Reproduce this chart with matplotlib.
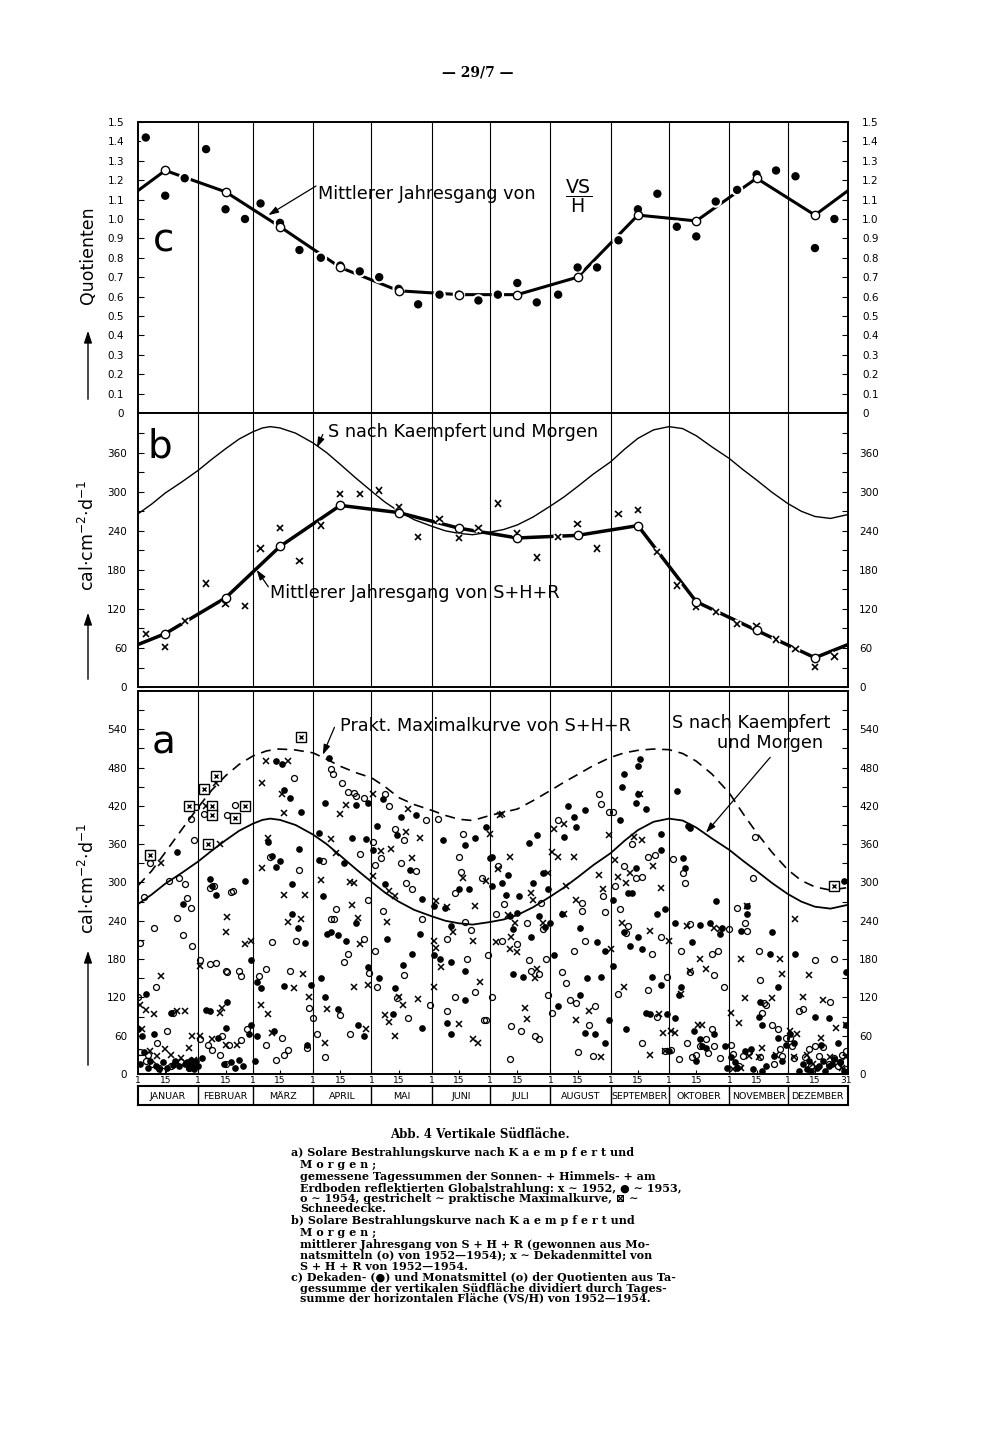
import numpy as np
import matplotlib
matplotlib.use('Agg')
import matplotlib.pyplot as plt
import matplotlib.patheffects as pe

plt.rcParams['font.family'] = ['DejaVu Sans']
plt.rcParams['mathtext.fontset'] = 'dejavusans'

# x axis is the day of the year, 0 = 1. Januar
month_start = [0, 31, 59, 90, 120, 151, 181, 212, 243, 273, 304, 334]
month_names = ['JANUAR', 'FEBRUAR', 'MÄRZ', 'APRIL', 'MAI', 'JUNI', 'JULI',
               'AUGUST', 'SEPTEMBER', 'OKTOBER', 'NOVEMBER', 'DEZEMBER']
year_len = 365
mid_offset = 14
decade_offsets = [4, 14, 24]

# c) quotient VS/H, monthly means (o) and decade means (.)
vsh_month = [1.25, 1.14, 0.96, 0.75, 0.63, 0.61, 0.61, 0.70, 1.02, 0.99, 1.21, 1.02]
vsh_decade = [1.42, 1.12, 1.21, 1.36, 1.05, 1.00, 1.08, 0.98, 0.84,
              0.80, 0.76, 0.73, 0.70, 0.64, 0.56, 0.61, 0.61, 0.58,
              0.61, 0.67, 0.57, 0.61, 0.75, 0.75, 0.89, 1.05, 1.13,
              0.96, 0.91, 1.09, 1.15, 1.23, 1.25, 1.22, 0.85, 1.00]

# b) S+H+R, monthly means (o) and decade means (x)
shr_month = [82, 137, 216, 279, 268, 244, 229, 233, 248, 131, 87, 45]
shr_decade = [81, 62, 102, 159, 127, 124, 213, 244, 194,
              248, 296, 297, 302, 276, 230, 258, 229, 244,
              282, 236, 199, 231, 251, 213, 266, 272, 208,
              156, 123, 115, 97, 94, 73, 58, 31, 47]

# S nach Kaempfert und Morgen
s_days = [0, 7, 14, 23, 31, 38, 45, 52, 59, 64, 68, 73, 81, 90, 97, 104, 112,
          120, 127, 134, 142, 151, 158, 165, 172, 181, 188, 195, 203, 212,
          219, 226, 234, 243, 250, 257, 265, 273, 280, 287, 295, 304, 311,
          318, 326, 334, 341, 348, 356, 365]
s_vals = [266, 281, 298, 316, 333, 350, 366, 381, 392, 398, 400, 398, 390, 375,
          360, 342, 321, 301, 284, 270, 257, 247, 240, 236, 234, 238, 242, 249,
          261, 278, 292, 308, 327, 346, 365, 382, 395, 400, 397, 386, 369, 351,
          334, 318, 299, 282, 270, 262, 259, 265]

# praktische Maximalkurve (dashed)
max_days = [0, 7, 14, 23, 31, 38, 45, 52, 59, 66, 72, 80, 90, 97, 104, 112,
            120, 127, 134, 142, 151, 158, 165, 172, 181, 188, 195, 203, 212,
            219, 226, 234, 243, 250, 257, 265, 273, 280, 287, 295, 304, 311,
            318, 326, 334, 341, 348, 356, 365]
max_vals = [295, 318, 347, 385, 418, 445, 467, 485, 498, 506, 509, 508, 503,
            493, 482, 472, 464, 450, 433, 422, 413, 405, 399, 397, 405, 410,
            415, 428, 444, 457, 469, 483, 496, 503, 507, 509, 508, 502, 490,
            470, 440, 408, 378, 347, 320, 303, 293, 288, 292]

# a) daily sums (day, cal/cm2/d): x 1952, dot 1953, o 1954
x1952 = [(1, 108), (2, 70), (4, 100), (6, 36), (8, 94), (10, 28), (12, 154), (12, 330),
         (14, 39), (17, 30), (20, 99), (22, 25), (24, 98), (26, 41), (28, 59), (29, 22),
         (32, 59), (32, 169), (35, 419), (38, 54), (40, 456), (42, 95), (42, 361), (43, 104),
         (45, 45), (45, 223), (46, 246), (51, 45), (55, 204), (58, 209),
         (85, 528), (66, 491), (67, 370), (64, 322), (64, 456), (74, 438), (77, 490), (75, 409),
         (75, 281), (77, 238), (80, 134), (84, 242), (86, 281), (85, 157), (88, 121), (67, 94),
         (69, 64), (63, 108),
         (94, 304), (97, 101), (96, 49), (99, 368), (102, 346), (104, 408), (107, 422),
         (109, 300), (111, 299), (110, 265), (111, 137), (113, 245), (114, 203), (117, 70),
         (118, 139),
         (121, 438), (121, 310), (125, 350), (129, 286), (128, 238), (130, 352), (132, 279),
         (134, 121), (136, 108), (127, 93), (129, 81), (132, 59), (139, 415), (138, 379),
         (145, 369), (144, 118), (141, 338),
         (152, 137), (153, 198), (152, 209), (156, 168), (153, 271), (159, 262), (162, 223),
         (165, 78), (172, 54), (175, 49), (167, 307), (173, 263), (176, 144), (172, 209),
         (179, 302), (181, 376),
         (184, 206), (185, 321), (186, 405), (187, 407), (190, 249), (191, 196), (192, 214),
         (194, 237), (195, 191), (199, 103), (200, 86), (202, 284), (203, 272), (204, 150),
         (205, 165), (208, 237), (211, 315), (191, 340),
         (213, 347), (214, 384), (216, 340), (219, 392), (219, 250), (220, 294), (224, 340),
         (225, 273), (225, 85), (232, 98), (237, 312), (238, 26), (239, 289), (242, 374),
         (243, 196),
         (245, 335), (247, 309), (249, 237), (251, 299), (250, 137), (253, 315), (255, 371),
         (258, 438), (259, 366), (263, 224), (263, 29), (265, 325), (268, 94), (269, 291),
         (270, 64), (271, 36), (273, 209),
         (274, 67), (276, 64), (279, 126), (282, 232), (284, 162), (289, 180), (290, 77),
         (292, 165), (288, 77), (296, 229), (299, 227),
         (305, 95), (306, 8), (309, 80), (310, 10), (310, 180), (312, 119), (313, 263),
         (314, 28), (319, 26), (321, 41), (326, 119), (330, 180), (331, 157), (328, 30),
         (335, 68), (337, 26), (338, 242), (339, 62), (342, 121), (345, 155), (351, 57),
         (352, 116), (356, 26), (359, 72), (362, 10), (364, 77), (364, 26), (347, 15), (344, 30)]

dot1953 = [(0, 70), (1, 15), (2, 59), (3, 35), (4, 126), (5, 10), (6, 20), (8, 62), (9, 12),
           (11, 8), (13, 18), (15, 10), (17, 95), (18, 14), (19, 20), (20, 348), (21, 12),
           (23, 266), (24, 15), (25, 18), (26, 10), (27, 22), (28, 14), (29, 8), (30, 20),
           (31, 12), (33, 25), (35, 100), (37, 99), (37, 305), (38, 294), (40, 281), (41, 57),
           (45, 72), (46, 113), (48, 18), (50, 10), (52, 22), (55, 303), (57, 62), (58, 76),
           (58, 178), (44, 15), (54, 12),
           (61, 144), (63, 135), (61, 59), (60, 21), (67, 364), (69, 342), (71, 324), (75, 445),
           (73, 333), (71, 491), (74, 486), (78, 432), (79, 297), (75, 138), (83, 353),
           (84, 411), (86, 205), (87, 45), (89, 139), (82, 228), (79, 251), (70, 67),
           (98, 495), (96, 424), (93, 378), (93, 335), (95, 278), (97, 219), (94, 151),
           (96, 121), (103, 102), (103, 218), (106, 331), (107, 208), (110, 370), (112, 421),
           (113, 77), (112, 237), (118, 168), (117, 368), (116, 59), (118, 425), (99, 222),
           (121, 351), (123, 389), (126, 431), (127, 297), (128, 211), (124, 150), (132, 135),
           (131, 94), (136, 170), (140, 320), (141, 188), (143, 405), (145, 219), (146, 274),
           (146, 72), (135, 403), (133, 374),
           (152, 186), (155, 180), (152, 263), (158, 260), (157, 366), (161, 232), (161, 176),
           (165, 289), (168, 161), (168, 116), (170, 289), (173, 370), (161, 62), (159, 80),
           (168, 358), (179, 387), (181, 339),
           (182, 340), (182, 294), (187, 299), (190, 312), (189, 281), (191, 248), (193, 157),
           (195, 252), (196, 278), (201, 362), (202, 214), (205, 374), (206, 248), (208, 315),
           (211, 289), (209, 230), (198, 152), (203, 299), (193, 227),
           (212, 237), (214, 186), (216, 107), (218, 250), (219, 371), (221, 420), (224, 402),
           (225, 387), (227, 229), (227, 124), (230, 413), (230, 64), (231, 150), (235, 62),
           (236, 206), (238, 152), (240, 193), (240, 49), (242, 85),
           (244, 273), (244, 169), (248, 398), (249, 450), (250, 470), (251, 71), (256, 425),
           (257, 482), (258, 494), (257, 439), (261, 415), (256, 322), (254, 284), (250, 222),
           (252, 284), (253, 201), (259, 196), (257, 214), (261, 95), (264, 152), (267, 250),
           (269, 376), (269, 351), (271, 259), (272, 94), (269, 139), (263, 94),
           (273, 36), (276, 237), (276, 88), (277, 443), (278, 123), (279, 137), (280, 339),
           (281, 322), (283, 389), (284, 386), (285, 207), (286, 67), (287, 21), (289, 54),
           (290, 44), (292, 40), (296, 62), (297, 271), (299, 219), (300, 229), (294, 237),
           (289, 234), (302, 44), (303, 10),
           (305, 27), (307, 18), (308, 10), (310, 224), (312, 36), (313, 250), (313, 263),
           (315, 39), (316, 8), (319, 90), (320, 113), (321, 5), (321, 77), (323, 12),
           (325, 188), (326, 222), (327, 28), (329, 137), (329, 57), (331, 20), (333, 46),
           (335, 62), (337, 49), (338, 188), (340, 5), (342, 15), (344, 8), (345, 20), (346, 5),
           (348, 90), (349, 10), (350, 13), (351, 46), (352, 20), (353, 5), (355, 88), (355, 12),
           (357, 15), (358, 23), (360, 49), (361, 18), (363, 5), (364, 77), (364, 160), (363, 302)]

o1954 = [(0, 120), (1, 205), (1, 35), (3, 277), (4, 20), (6, 331), (7, 15), (8, 229), (9, 137),
         (10, 49), (11, 10), (13, 5), (15, 68), (16, 303), (17, 12), (18, 95), (20, 245),
         (21, 307), (22, 18), (23, 217), (24, 297), (25, 276), (26, 10), (27, 260), (27, 400),
         (28, 201), (29, 366), (5, 30),
         (30, 418), (34, 408), (32, 178), (37, 173), (37, 292), (46, 405), (49, 286), (50, 421),
         (45, 162), (40, 174), (52, 162), (53, 154), (46, 160), (39, 294), (48, 285), (32, 54),
         (36, 46), (38, 38), (42, 30), (45, 15), (47, 46), (53, 53), (56, 70), (43, 60),
         (62, 153), (66, 164), (69, 207), (74, 57), (75, 30), (77, 38), (78, 162), (80, 464),
         (81, 209), (68, 340), (66, 45), (71, 22), (88, 103), (87, 40), (83, 320), (90, 88),
         (99, 478), (100, 470), (105, 456), (108, 442), (108, 188), (111, 440), (112, 436),
         (116, 433), (99, 242), (101, 242), (102, 259), (109, 62), (96, 27), (92, 63),
         (104, 93), (118, 272), (119, 158), (116, 211), (95, 333), (106, 175), (114, 345),
         (121, 364), (122, 327), (125, 339), (127, 438), (129, 420), (132, 384), (135, 330),
         (137, 366), (138, 299), (141, 289), (122, 193), (126, 255), (123, 137), (137, 155),
         (133, 119), (139, 88), (146, 242), (148, 398), (143, 318),
         (150, 108), (154, 400), (159, 211), (159, 98), (163, 284), (165, 340), (166, 317),
         (168, 238), (169, 180), (167, 376), (177, 307), (180, 186), (182, 121), (163, 121),
         (173, 129), (179, 85), (171, 225),
         (184, 250), (188, 266), (185, 326), (178, 85), (192, 75), (191, 24), (197, 67),
         (195, 204), (200, 237), (201, 178), (204, 59), (206, 54), (207, 268), (208, 227),
         (210, 180), (211, 124), (202, 162), (206, 157), (187, 208),
         (213, 95), (216, 398), (218, 160), (220, 142), (222, 116), (224, 193), (225, 111),
         (226, 34), (228, 268), (230, 209), (232, 77), (234, 28), (235, 106), (237, 438),
         (238, 423), (239, 278), (240, 253), (242, 410), (228, 255),
         (244, 410), (245, 294), (247, 126), (250, 325), (251, 221), (252, 232), (254, 360),
         (256, 307), (259, 309), (262, 131), (259, 49), (264, 188), (267, 90), (269, 214),
         (271, 36), (272, 152), (262, 340), (266, 343), (248, 258),
         (275, 336), (280, 315), (281, 299), (274, 37), (278, 23), (279, 193), (282, 49),
         (284, 160), (285, 26), (284, 235), (287, 30), (289, 44), (292, 54), (295, 70),
         (295, 188), (296, 155), (298, 193), (301, 137), (299, 25), (296, 44), (293, 33),
         (304, 227), (305, 46), (306, 32), (308, 260), (309, 12), (311, 28), (312, 237),
         (313, 224), (314, 34), (316, 307), (317, 371), (319, 193), (320, 26), (320, 147),
         (321, 95), (322, 111), (323, 108), (326, 77), (327, 15), (329, 70), (330, 39),
         (331, 28), (333, 57),
         (335, 57), (336, 44), (337, 25), (340, 98), (342, 101), (343, 26), (345, 39),
         (346, 12), (348, 178), (348, 44), (350, 28), (352, 42), (355, 15), (356, 113),
         (358, 180), (358, 25), (360, 13), (361, 18), (362, 30), (364, 8), (364, 36)]

snow = [(6, 343), (26, 419), (34, 446), (38, 419), (38, 405), (40, 467), (36, 360),
        (50, 401), (55, 420), (84, 528), (358, 295)]

mean_x = [m + mid_offset for m in month_start]
dec_x = [m + o for m in month_start for o in decade_offsets]


def wrapped(vals):
    # close the mean line over the turn of the year
    xs = [mean_x[-1] - year_len] + mean_x + [mean_x[0] + year_len]
    ys = [vals[-1]] + list(vals) + [vals[0]]
    return xs, ys


halo = [pe.withStroke(linewidth=4, foreground='white')]
ann_size = 12.7

fig = plt.figure(figsize=(10, 14.47), dpi=100)
H = 1447.0
L, W = 0.138, 0.710
ax_c = fig.add_axes([L, 0.7146, W, 0.2011])
ax_b = fig.add_axes([L, 0.5252, W, 0.1894])
ax_a = fig.add_axes([L, 0.2578, W, 0.2647])
ax_m = fig.add_axes([L, 0.2364, W, 0.0131])


def style_panel(ax, ymax, major, minor, labels, pad):
    ax.set_xlim(0, year_len)
    ax.set_ylim(0, ymax)
    ax.set_yticks(major)
    ax.set_yticklabels(labels)
    ax.set_yticks(minor, minor=True)
    ax.tick_params(axis='y', which='both', direction='in', left=True, right=True,
                   length=4, width=0.8)
    ax.tick_params(axis='y', labelleft=True, labelright=True, labelsize=7.5, pad=pad)
    for s in ax.spines.values():
        s.set_linewidth(1.4)
    for m in month_start[1:]:
        ax.axvline(m, color='black', lw=0.8, zorder=1)


arrow_kw = dict(arrowstyle='-|>,head_length=0.6,head_width=0.2', color='black', lw=0.9,
                shrinkA=0, shrinkB=0)

# ---- panel c
cv = np.round(np.arange(0, 1.51, 0.1), 1)
style_panel(ax_c, 1.5, cv, [], ['0'] + [f'{v:.1f}' for v in cv[1:]], 10)
ax_c.set_xticks([])
lx, ly = wrapped(vsh_month)
ax_c.plot(lx, ly, color='black', lw=2.2, zorder=2)
ax_c.plot(dec_x, vsh_decade, 'o', color='black', ms=5, zorder=3, path_effects=halo)
ax_c.plot(mean_x, vsh_month, 'o', mfc='white', mec='black', ms=6, mew=1.0, zorder=4)
ax_c.text(13, 0.89, 'c', fontsize=28, ha='center', va='center')
ax_c.annotate('', xy=(67, 1.02), xytext=(91.5, 1.17), arrowprops=arrow_kw)
ax_c.text(92.5, 1.13, 'Mittlerer Jahresgang von', fontsize=ann_size, va='center')
ax_c.text(226.5, 1.12, '$\\dfrac{\\mathrm{VS}}{\\mathrm{H}}$', fontsize=ann_size + 1,
          ha='center', va='center')

# ---- panel b
style_panel(ax_b, 421, np.arange(0, 361, 60), np.arange(30, 420, 60),
            [str(v) for v in range(0, 361, 60)], 8)
ax_b.set_xticks([])
ax_b.plot(s_days, s_vals, color='black', lw=1.0, zorder=2)
lx, ly = wrapped(shr_month)
ax_b.plot(lx, ly, color='black', lw=2.5, zorder=2)
ax_b.plot(dec_x, shr_decade, 'x', color='black', ms=4.5, mew=1.2, zorder=3, path_effects=halo)
ax_b.plot(mean_x, shr_month, 'o', mfc='white', mec='black', ms=6, mew=1.0, zorder=4)
ax_b.text(11, 369, 'b', fontsize=28, ha='center', va='center')
ax_b.annotate('', xy=(92, 368), xytext=(95, 388), arrowprops=arrow_kw)
ax_b.text(97.5, 392, 'S nach Kaempfert und Morgen', fontsize=ann_size, va='center')
ax_b.annotate('', xy=(61, 180), xytext=(67, 154), arrowprops=arrow_kw)
ax_b.text(68, 145, 'Mittlerer Jahresgang von S+H+R', fontsize=ann_size, va='center')

# ---- panel a
style_panel(ax_a, 600, np.arange(0, 541, 60), np.arange(30, 600, 60),
            [str(v) for v in range(0, 541, 60)], 8)
ax_a.plot(max_days, max_vals, color='black', lw=1.2, dashes=(6, 4), zorder=2)
ax_a.plot(s_days, s_vals, color='black', lw=1.3, zorder=2)
xd, xv = zip(*x1952)
ax_a.plot(xd, xv, 'x', color='black', ms=4, mew=1.1, zorder=3)
dd, dv = zip(*dot1953)
ax_a.plot(dd, dv, 'o', color='black', ms=3.8, zorder=3)
od, ov = zip(*o1954)
ax_a.plot(od, ov, 'o', mfc='none', mec='black', ms=4.3, mew=0.9, zorder=3)
sd, sv = zip(*snow)
ax_a.plot(sd, sv, 's', mfc='white', mec='black', ms=7, mew=1.0, zorder=4)
ax_a.plot(sd, sv, 'x', color='black', ms=3.5, mew=1.0, zorder=5)
ax_a.text(13, 520, 'a', fontsize=28, ha='center', va='center')
ax_a.annotate('', xy=(95, 500), xytext=(101, 543), arrowprops=arrow_kw)
ax_a.text(104, 545, 'Prakt. Maximalkurve von S+H+R', fontsize=ann_size, va='center')
ax_a.text(356, 549, 'S nach Kaempfert', fontsize=ann_size, va='center', ha='right')
ax_a.text(352, 518, 'und Morgen', fontsize=ann_size, va='center', ha='right')
ax_a.annotate('', xy=(292, 378), xytext=(325, 496), arrowprops=arrow_kw)

day_ticks = month_start + [m + 14 for m in month_start] + [year_len - 1]
day_labels = ['1'] * 12 + ['15'] * 12 + ['31']
ax_a.set_xticks(day_ticks)
ax_a.set_xticklabels(day_labels)
ax_a.tick_params(axis='x', direction='in', length=3, labelsize=6.5, pad=1.5, bottom=True)

# ---- month band
ax_m.set_xlim(0, year_len)
ax_m.set_ylim(0, 1)
ax_m.set_xticks([])
ax_m.set_yticks([])
for s in ax_m.spines.values():
    s.set_linewidth(1.5)
bounds = month_start + [year_len]
for i, name in enumerate(month_names):
    if i > 0:
        ax_m.axvline(month_start[i], color='black', lw=1.0)
    ax_m.text((bounds[i] + bounds[i + 1]) / 2, 0.45, name, ha='center', va='center',
              fontsize=6.8)


# ---- left axis titles with arrows
def ytitle(text, yc, y_head, y_tail):
    fig.text(0.088, 1 - yc / H, text, rotation=90, ha='center', va='center', fontsize=12.5)
    fig.add_artist(matplotlib.patches.FancyArrowPatch(
        (0.088, 1 - y_tail / H), (0.088, 1 - y_head / H), transform=fig.transFigure,
        arrowstyle='-|>,head_length=0.6,head_width=0.2', color='black', lw=1.0,
        mutation_scale=12))


ytitle('Quotienten', 255, 328, 402)
ytitle('cal$\\cdot$cm$^{-2}$$\\cdot$d$^{-1}$', 535, 610, 682)
ytitle('cal$\\cdot$cm$^{-2}$$\\cdot$d$^{-1}$', 878, 948, 1068)

# ---- page number and caption
serif = ['DejaVu Serif']
fig.text(0.478, 1 - 72 / H, '— 29/7 —', ha='center', va='center', fontsize=10,
         fontweight='bold', family=serif)
fig.text(0.480, 1 - 1135 / H, 'Abb. 4 Vertikale Südfläche.', ha='center', va='center',
         fontsize=8.5, fontweight='bold', family=serif)
caption = [
    (291, 1153, 'a) Solare Bestrahlungskurve nach K a e m p f e r t und'),
    (300, 1165, 'M o r g e n ;'),
    (300, 1177, 'gemessene Tagessummen der Sonnen- + Himmels- + am'),
    (300, 1188, 'Erdboden reflektierten Globalstrahlung: x ∼ 1952, ● ∼ 1953,'),
    (300, 1199, 'o ∼ 1954, gestrichelt ∼ praktische Maximalkurve, ⊠ ∼'),
    (300, 1209, 'Schneedecke.'),
    (291, 1221, 'b) Solare Bestrahlungskurve nach K a e m p f e r t und'),
    (300, 1232, 'M o r g e n ;'),
    (300, 1244, 'mittlerer Jahresgang von S + H + R (gewonnen aus Mo-'),
    (300, 1255, 'natsmitteln (o) von 1952—1954); x ∼ Dekadenmittel von'),
    (300, 1266, 'S + H + R von 1952—1954.'),
    (291, 1277, 'c) Dekaden- (●) und Monatsmittel (o) der Quotienten aus Ta-'),
    (300, 1288, 'gessumme der vertikalen Südfläche dividiert durch Tages-'),
    (300, 1298, 'summe der horizontalen Fläche (VS/H) von 1952—1954.'),
]
for px, py, line in caption:
    fig.text(px / 1000, 1 - py / H, line, ha='left', va='center', fontsize=8,
             fontweight='bold', family=serif)

fig.savefig('out.png', dpi=100, facecolor='white')
